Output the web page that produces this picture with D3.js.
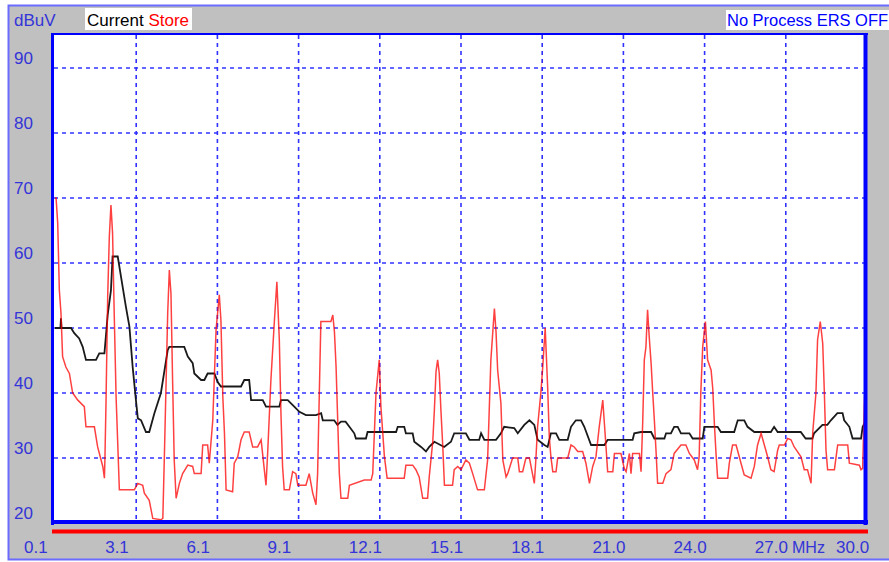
<!DOCTYPE html>
<html>
<head>
<meta charset="utf-8">
<script src="https://cdn.jsdelivr.net/npm/d3@7"></script>
<style>
  body { margin: 0; background: #fff; }
  svg { display: block; }
  text { font-family: "Liberation Sans", Arial, sans-serif; }
</style>
</head>
<body>
<svg width="889" height="562"></svg>
<script>
// level axis (dBuV) and frequency axis labels
var yTicks = [20, 30, 40, 50, 60, 70, 80, 90];
var xTickLabels = ["0.1", "3.1", "6.1", "9.1", "12.1", "15.1", "18.1", "21.0", "24.0", "27.0", "30.0"];

// "Current" trace (black): [MHz, dBuV]
var currentTrace = [
    [0.10, 50.0], [0.30, 50.0], [0.32, 51.5], [0.34, 50.0], [0.69, 50.0], [0.81, 49.2], [0.99, 48.4], [1.12, 47.1], [1.24, 45.1],
    [1.61, 45.1], [1.73, 46.1], [1.92, 46.1], [2.04, 52.0], [2.16, 55.8], [2.22, 61.0], [2.41, 61.0],
    [2.53, 57.9], [2.71, 53.3], [2.84, 50.2], [2.96, 44.0], [3.08, 38.9], [3.15, 36.1], [3.27, 35.8],
    [3.45, 34.0], [3.57, 34.0], [3.76, 36.9], [4.00, 40.0], [4.25, 46.6], [4.31, 47.1], [4.86, 47.1],
    [4.99, 45.6], [5.17, 44.6], [5.23, 43.0], [5.48, 42.0], [5.60, 42.0], [5.72, 43.0], [5.97, 43.0],
    [6.09, 41.7], [6.21, 41.0], [6.95, 41.0], [7.07, 42.0], [7.25, 42.0], [7.32, 38.9], [7.75, 38.9],
    [7.87, 37.9], [8.36, 37.9], [8.42, 38.9], [8.67, 38.9], [8.91, 37.9], [9.10, 37.1], [9.34, 36.6],
    [9.71, 36.6], [9.90, 36.9], [9.96, 35.8], [10.38, 35.8], [10.50, 35.1], [10.63, 35.6], [10.80, 35.6],
    [10.94, 34.8], [11.12, 33.8], [11.18, 33.0], [11.55, 33.0], [11.61, 34.0], [12.66, 34.0], [12.72, 34.8],
    [12.96, 34.8], [13.02, 33.8], [13.27, 33.8], [13.33, 32.5], [13.58, 31.7], [13.76, 31.0], [13.88, 31.7],
    [14.07, 32.5], [14.43, 31.7], [14.68, 32.5], [14.80, 33.8], [15.23, 33.8], [15.36, 32.8], [15.72, 32.8],
    [15.79, 33.8], [15.91, 32.8], [16.34, 32.8], [16.52, 33.8], [16.64, 34.8], [17.01, 34.6], [17.14, 33.8],
    [17.38, 35.1], [17.57, 35.8], [17.75, 35.1], [17.87, 32.8], [18.12, 32.0], [18.24, 31.7], [18.36, 33.8],
    [18.55, 33.8], [18.67, 32.8], [18.98, 32.8], [19.10, 34.8], [19.28, 35.8], [19.47, 35.8], [19.59, 34.8],
    [19.84, 32.0], [20.33, 32.0], [20.45, 32.8], [21.37, 32.8], [21.43, 33.8], [21.68, 34.0], [22.05, 34.0],
    [22.17, 33.0], [22.54, 33.0], [22.60, 33.8], [22.78, 33.8], [22.90, 34.8], [23.03, 34.8], [23.15, 33.8],
    [23.46, 33.8], [23.58, 33.0], [23.95, 33.0], [24.01, 34.8], [24.50, 34.8], [24.62, 34.0], [25.11, 34.0],
    [25.24, 35.8], [25.48, 35.8], [25.60, 34.8], [25.85, 34.0], [26.46, 34.0], [26.58, 34.8], [26.71, 34.0],
    [27.56, 34.0], [27.74, 33.0], [27.99, 33.0], [28.05, 33.8], [28.36, 35.1], [28.54, 35.1], [28.67, 35.8],
    [28.91, 36.9], [29.10, 36.9], [29.16, 35.8], [29.35, 34.8], [29.47, 33.0], [29.78, 33.0], [29.84, 34.8],
    [29.96, 35.8]
];

// "Store" trace (red): [MHz, dBuV]
var storeTrace = [
    [0.10, 70.0], [0.14, 70.0], [0.20, 66.1], [0.26, 55.8], [0.32, 52.3], [0.38, 45.6], [0.50, 44.0],
    [0.63, 43.0], [0.75, 40.0], [0.94, 38.9], [1.18, 37.9], [1.24, 34.8], [1.55, 34.8], [1.67, 31.7],
    [1.86, 28.7], [1.92, 26.9], [1.94, 30.2], [1.98, 38.9], [2.04, 54.8], [2.10, 64.0], [2.16, 68.9],
    [2.22, 64.6], [2.28, 52.3], [2.35, 39.4], [2.47, 25.1], [3.02, 25.1], [3.15, 26.1], [3.33, 25.8],
    [3.39, 24.6], [3.57, 23.5], [3.70, 20.7], [4.00, 20.5], [4.07, 20.7], [4.13, 30.7], [4.25, 52.3],
    [4.31, 58.9], [4.37, 55.3], [4.43, 42.0], [4.49, 29.7], [4.56, 23.8], [4.68, 26.1], [4.80, 27.6],
    [4.99, 28.9], [5.17, 28.7], [5.23, 27.6], [5.48, 27.6], [5.54, 32.0], [5.72, 32.0], [5.78, 29.2],
    [5.91, 35.8], [6.03, 49.7], [6.15, 55.1], [6.21, 51.2], [6.28, 39.4], [6.34, 33.8], [6.40, 25.1],
    [6.64, 24.8], [6.70, 29.2], [6.83, 30.2], [6.95, 32.8], [7.07, 34.0], [7.25, 34.0], [7.38, 31.7],
    [7.56, 31.7], [7.69, 32.8], [7.87, 25.8], [7.93, 30.7], [8.05, 42.0], [8.18, 51.2], [8.27, 57.1],
    [8.36, 48.2], [8.42, 36.9], [8.48, 28.7], [8.54, 25.1], [8.73, 25.1], [8.85, 27.9], [8.97, 27.6],
    [9.04, 25.8], [9.34, 25.8], [9.46, 27.6], [9.59, 24.6], [9.71, 22.8], [9.77, 27.6], [9.83, 39.4],
    [9.89, 51.0], [10.26, 51.0], [10.33, 52.0], [10.39, 49.4], [10.45, 44.0], [10.57, 27.6], [10.63, 23.8],
    [10.88, 23.8], [10.94, 25.8], [11.49, 26.6], [11.74, 26.6], [11.80, 27.6], [11.92, 40.0], [12.04, 45.1],
    [12.10, 37.9], [12.17, 33.8], [12.23, 30.2], [12.33, 26.9], [12.96, 26.9], [13.02, 28.9], [13.27, 28.9],
    [13.39, 28.2], [13.51, 27.1], [13.64, 23.8], [13.82, 23.8], [13.88, 27.1], [14.01, 32.5], [14.07, 37.4],
    [14.13, 43.3], [14.19, 45.1], [14.25, 43.0], [14.31, 37.4], [14.38, 31.7], [14.44, 25.8], [14.74, 25.8],
    [14.80, 28.2], [14.93, 28.7], [15.05, 28.2], [15.23, 29.7], [15.36, 29.2], [15.48, 27.6], [15.66, 25.1],
    [15.91, 25.1], [16.03, 29.7], [16.09, 37.4], [16.15, 45.1], [16.28, 53.0], [16.34, 49.4], [16.40, 43.5],
    [16.52, 38.4], [16.59, 29.7], [16.71, 27.1], [16.77, 27.6], [16.95, 30.0], [17.14, 30.0], [17.20, 27.9],
    [17.32, 27.9], [17.44, 30.0], [17.57, 30.0], [17.75, 26.1], [17.81, 30.0], [17.87, 34.8], [17.99, 40.0],
    [18.06, 44.0], [18.15, 50.0], [18.24, 41.0], [18.30, 33.3], [18.36, 30.2], [18.43, 27.9], [18.55, 27.9],
    [18.61, 30.0], [18.98, 30.0], [19.04, 31.0], [19.10, 32.0], [19.22, 31.7], [19.35, 31.0], [19.53, 31.0],
    [19.65, 29.2], [19.78, 26.1], [19.90, 28.7], [20.02, 30.2], [20.14, 34.8], [20.27, 38.9], [20.33, 35.3],
    [20.39, 31.7], [20.45, 27.9], [20.64, 27.9], [20.70, 30.7], [20.94, 30.7], [21.06, 28.4], [21.13, 27.9],
    [21.25, 30.7], [21.31, 27.6], [21.37, 30.7], [21.62, 30.7], [21.68, 27.9], [21.74, 35.3], [21.80, 45.1],
    [21.86, 47.1], [21.92, 52.8], [21.98, 48.7], [22.05, 44.6], [22.11, 40.0], [22.17, 35.8], [22.23, 31.2],
    [22.29, 26.1], [22.48, 26.1], [22.60, 27.6], [22.78, 28.2], [22.90, 30.7], [23.15, 32.0], [23.33, 32.0],
    [23.46, 30.7], [23.64, 29.7], [23.76, 28.2], [23.82, 30.2], [23.88, 40.0], [23.95, 47.1], [24.05, 51.0],
    [24.13, 45.1], [24.26, 43.5], [24.32, 40.7], [24.38, 35.3], [24.44, 30.7], [24.50, 26.9], [24.87, 26.9],
    [24.93, 29.2], [25.05, 32.0], [25.18, 32.0], [25.36, 29.2], [25.48, 27.4], [25.73, 26.9], [25.85, 28.7],
    [25.97, 32.0], [26.10, 33.8], [26.22, 32.0], [26.34, 30.2], [26.46, 28.2], [26.58, 27.9], [26.71, 31.2],
    [26.77, 32.0], [26.96, 32.0], [27.08, 33.0], [27.20, 32.8], [27.32, 31.7], [27.57, 30.2], [27.69, 28.2],
    [27.81, 28.2], [27.94, 26.1], [28.00, 33.8], [28.12, 40.0], [28.18, 48.2], [28.28, 51.0], [28.37, 47.6],
    [28.43, 40.0], [28.49, 31.2], [28.55, 28.2], [28.80, 28.2], [28.92, 32.0], [29.29, 32.0], [29.35, 29.2],
    [29.72, 28.9], [29.78, 28.2], [29.84, 28.4], [29.90, 37.9], [29.96, 45.1], [30.00, 48.7]
];

var svg = d3.select("svg");
var width = 889, height = 562;
var blue = "#0000ff", textBlue = "#3434d8", grey = "#c0c0c0";

// plot frame
var plot = { left: 54, right: 866, top: 35, bottom: 523 };

var x = d3.scaleLinear().domain([0.1, 30.0]).range([55, 867]);
var y = d3.scaleLinear().domain([20, 95]).range([523, 35.5]);

// grid positions: ten equal divisions across the span
var xTickPos = xTickLabels.map(function (d, i) { return 0.1 + i * (30.0 - 0.1) / 10; });

//////////// BACKGROUND ////////////

svg.append("rect").attr("width", width).attr("height", height).attr("fill", "#fff");
svg.append("rect")
    .attr("x", 8).attr("y", 5).attr("width", width - 8).attr("height", 555)
    .attr("fill", grey);
svg.append("path")
    .attr("d", "M" + width + ",5.5H8.5V559.5H" + width)
    .attr("fill", "none").attr("stroke", "#6b6bff").attr("stroke-width", 2);

// header boxes
svg.append("rect").attr("x", 85).attr("y", 8).attr("width", 107).attr("height", 22).attr("fill", "#fff");
svg.append("rect").attr("x", 726).attr("y", 10).attr("width", 163).attr("height", 20).attr("fill", "#fff");

svg.append("rect")
    .attr("x", plot.left).attr("y", plot.top)
    .attr("width", plot.right - plot.left).attr("height", plot.bottom - plot.top)
    .attr("fill", "#fff");

//////////// GRID ////////////

var grid = svg.append("g").attr("class", "grid")
    .attr("stroke", blue).attr("stroke-width", 1.6).attr("stroke-dasharray", "4,4").attr("opacity", 0.8);

grid.selectAll("line.h")
    .data(yTicks.filter(function (d) { return d > 20; }))
    .enter().append("line")
    .attr("class", "h")
    .attr("x1", plot.left).attr("x2", plot.right)
    .attr("y1", function (d) { return y(d); })
    .attr("y2", function (d) { return y(d); });

grid.selectAll("line.v")
    .data(xTickPos.slice(1, -1))
    .enter().append("line")
    .attr("class", "v")
    .attr("y1", plot.top).attr("y2", plot.bottom)
    .attr("x1", function (d) { return x(d); })
    .attr("x2", function (d) { return x(d); });

//////////// TRACES ////////////

svg.append("clipPath").attr("id", "clip")
    .append("rect")
    .attr("x", plot.left).attr("y", plot.top)
    .attr("width", plot.right - plot.left).attr("height", plot.bottom - plot.top);

var line = d3.line()
    .x(function (d) { return x(d[0]); })
    .y(function (d) { return y(d[1]); });

svg.append("path")
    .datum(currentTrace)
    .attr("clip-path", "url(#clip)")
    .attr("fill", "none")
    .attr("stroke", "#1a1a1a")
    .attr("stroke-width", 1.8)
    .attr("d", line);

svg.append("path")
    .datum(storeTrace)
    .attr("clip-path", "url(#clip)")
    .attr("fill", "none")
    .attr("stroke", "#ff0000")
    .attr("stroke-opacity", 0.75)
    .attr("stroke-width", 1.5)
    .attr("d", line);

//////////// FRAME ////////////

svg.append("line").attr("x1", 52.5).attr("x2", 52.5).attr("y1", 33).attr("y2", 525)
    .attr("stroke", blue).attr("stroke-width", 3);
svg.append("line").attr("x1", 51).attr("x2", 868).attr("y1", 34).attr("y2", 34)
    .attr("stroke", blue).attr("stroke-width", 2);
svg.append("line").attr("x1", 865.5).attr("x2", 865.5).attr("y1", 33).attr("y2", 525)
    .attr("stroke", blue).attr("stroke-width", 4);
svg.append("line").attr("x1", 51).attr("x2", 868).attr("y1", 522).attr("y2", 522)
    .attr("stroke", blue).attr("stroke-width", 4);
// red marker bar under the axis
svg.append("line").attr("x1", 52).attr("x2", 868).attr("y1", 531.5).attr("y2", 531.5)
    .attr("stroke", "#ff0000").attr("stroke-width", 4);

//////////// LABELS ////////////

svg.selectAll("text.ylab")
    .data(yTicks)
    .enter().append("text")
    .attr("class", "ylab")
    .attr("x", 14)
    .attr("y", function (d) { return y(d) - 4; })
    .attr("font-size", 17)
    .attr("fill", textBlue)
    .text(function (d) { return d; });

svg.selectAll("text.xlab")
    .data(xTickLabels)
    .enter().append("text")
    .attr("class", "xlab")
    .attr("x", function (d, i) { return x(xTickPos[i]) - 31; })
    .attr("y", 553)
    .attr("font-size", 17)
    .attr("fill", textBlue)
    .text(function (d) { return d; });

svg.append("text").attr("x", 792).attr("y", 553).attr("font-size", 17)
    .attr("fill", textBlue).attr("textLength", 33).attr("lengthAdjust", "spacingAndGlyphs")
    .text("MHz");

svg.append("text").attr("x", 14).attr("y", 26).attr("font-size", 17)
    .attr("fill", textBlue).text("dBuV");

var legend = svg.append("text").attr("x", 87).attr("y", 26).attr("font-size", 17);
legend.append("tspan").attr("fill", "#000").text("Current ");
legend.append("tspan").attr("fill", "#ff0000").text("Store");

svg.append("text").attr("x", 727).attr("y", 26).attr("font-size", 16)
    .attr("fill", blue).attr("textLength", 161).attr("lengthAdjust", "spacingAndGlyphs")
    .text("No Process ERS OFF");
</script>
</body>
</html>
